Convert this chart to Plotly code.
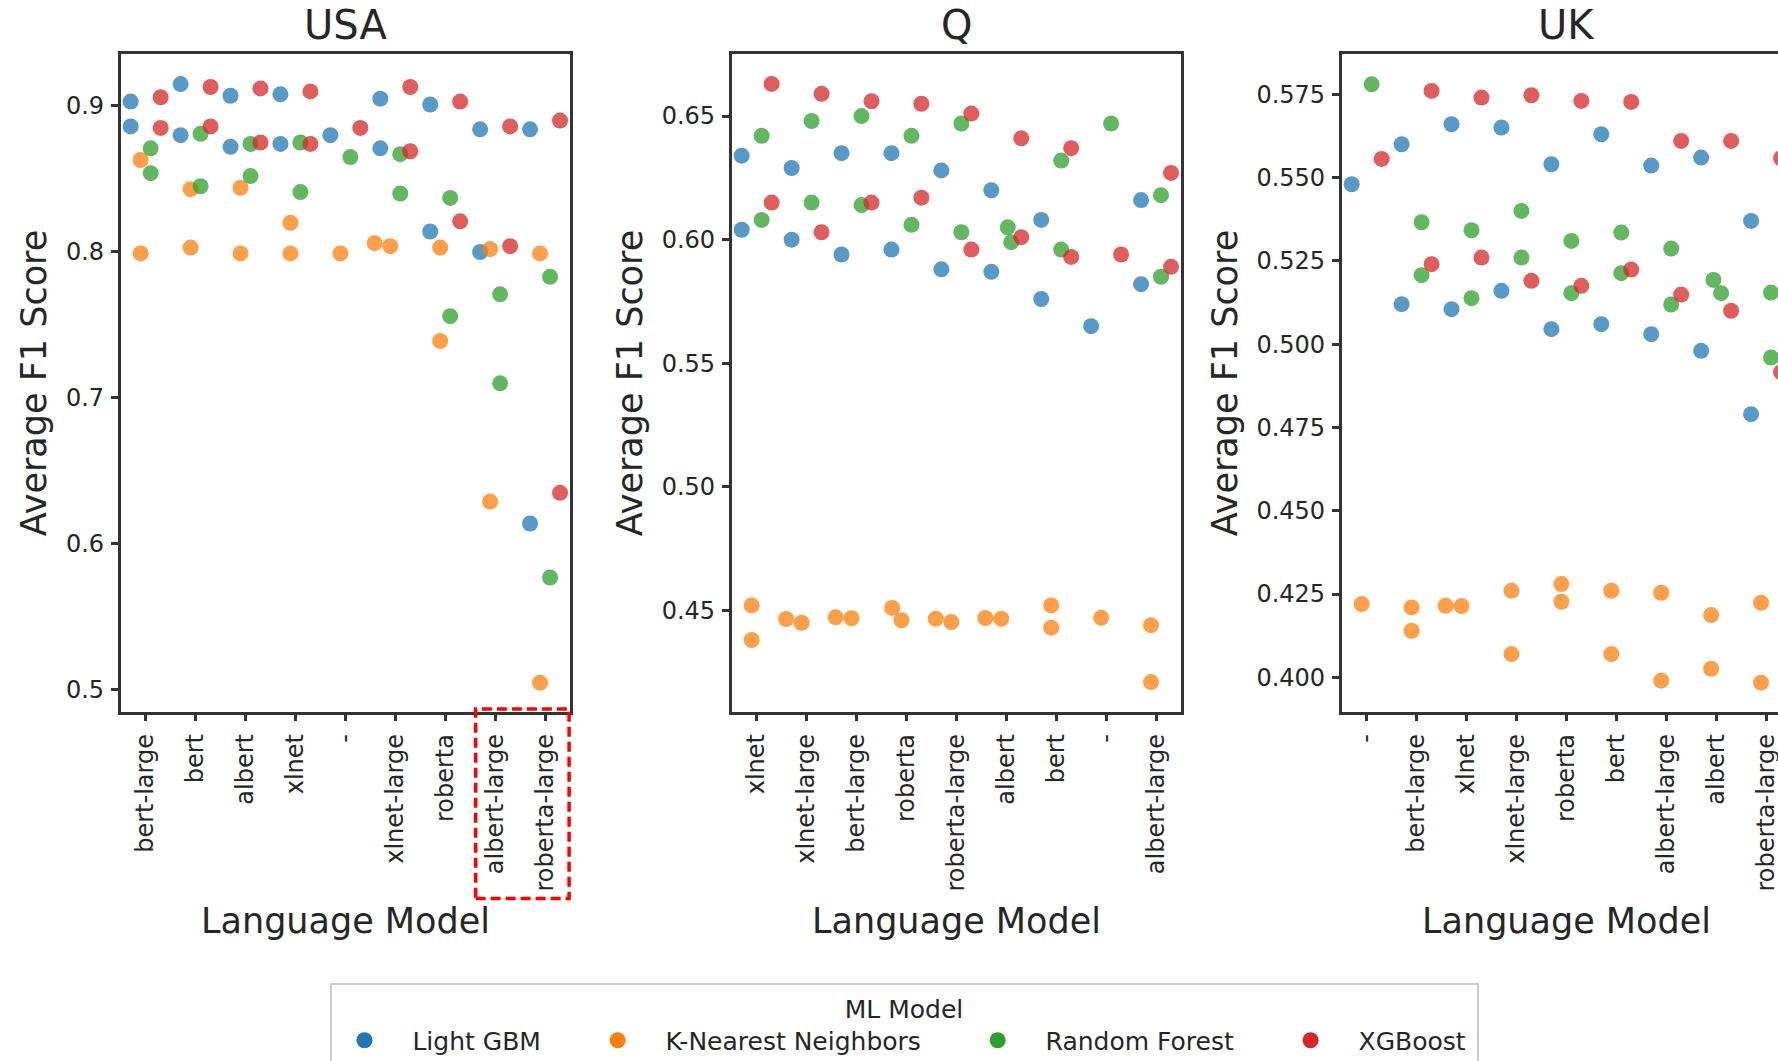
import numpy as np
import plotly.graph_objects as go

FIG_W, FIG_H = 1778, 1061

MODELS = ["Light GBM", "K-Nearest Neighbors", "Random Forest", "XGBoost"]
COLORS = ["#1f77b4", "#ff7f0e", "#2ca02c", "#d62728"]

# ---------------- data ----------------
usa_categories = ["bert-large", "bert", "albert", "xlnet", "-", "xlnet-large",
                  "roberta", "albert-large", "roberta-large"]
usa_lgbm = [[0.903, 0.886], [0.915, 0.880], [0.907, 0.872], [0.908, 0.874], [0.880],
            [0.905, 0.871], [0.901, 0.814], [0.884, 0.800], [0.884, 0.614]]
usa_knn = [[0.863, 0.799], [0.843, 0.803], [0.844, 0.799], [0.820, 0.799], [0.799],
           [0.806, 0.804], [0.803, 0.739], [0.802, 0.629], [0.799, 0.505]]
usa_rf = [[0.871, 0.854], [0.881, 0.845], [0.874, 0.852], [0.875, 0.841], [0.865],
          [0.867, 0.840], [0.837, 0.756], [0.771, 0.710], [0.783, 0.577]]
usa_xgb = [[0.906, 0.885], [0.913, 0.886], [0.912, 0.875], [0.910, 0.874], [0.885],
           [0.913, 0.869], [0.903, 0.821], [0.886, 0.804], [0.890, 0.635]]

q_categories = ["xlnet", "xlnet-large", "bert-large", "roberta", "roberta-large",
                "albert", "bert", "-", "albert-large"]
q_lgbm = [[0.634, 0.604], [0.629, 0.600], [0.635, 0.594], [0.635, 0.596], [0.628, 0.588],
          [0.620, 0.587], [0.608, 0.576], [0.565], [0.616, 0.582]]
q_knn = [[0.452, 0.438], [0.4465, 0.445], [0.4472, 0.4468], [0.451, 0.446], [0.4466, 0.4453],
         [0.4469, 0.4466], [0.452, 0.443], [0.447], [0.444, 0.421]]
q_rf = [[0.642, 0.608], [0.648, 0.615], [0.650, 0.614], [0.642, 0.606], [0.647, 0.603],
        [0.605, 0.599], [0.632, 0.596], [0.647], [0.618, 0.585]]
q_xgb = [[0.663, 0.615], [0.659, 0.603], [0.656, 0.615], [0.655, 0.617], [0.651, 0.596],
         [0.641, 0.601], [0.637, 0.593], [0.594], [0.627, 0.589]]

uk_categories = ["-", "bert-large", "xlnet", "xlnet-large", "roberta", "bert",
                 "albert-large", "albert", "roberta-large"]
uk_lgbm = [[0.548], [0.560, 0.512], [0.566, 0.5105], [0.565, 0.516], [0.554, 0.5045],
           [0.563, 0.506], [0.5536, 0.503], [0.556, 0.498], [0.537, 0.479]]
uk_knn = [[0.422], [0.421, 0.414], [0.4215, 0.4214], [0.426, 0.407], [0.428, 0.4227],
          [0.426, 0.407], [0.4254, 0.399], [0.4187, 0.4026], [0.4224, 0.3984]]
uk_rf = [[0.578], [0.5366, 0.5207], [0.5342, 0.5138], [0.540, 0.526], [0.531, 0.5153],
         [0.5335, 0.5213], [0.5287, 0.5119], [0.5193, 0.5153], [0.5155, 0.496]]
uk_xgb = [[0.5556], [0.576, 0.524], [0.574, 0.526], [0.5747, 0.519], [0.573, 0.5175],
          [0.5727, 0.5224], [0.561, 0.5149], [0.561, 0.510], [0.5558, 0.4916]]

usa_yticks = [0.5, 0.6, 0.7, 0.8, 0.9]
q_yticks = [0.45, 0.50, 0.55, 0.60, 0.65]
uk_yticks = [0.400, 0.425, 0.450, 0.475, 0.500, 0.525, 0.550, 0.575]

# ---------------- layout geometry ----------------
PLOT_TOP, PLOT_BOT = 54.3, 711.7
Y_DOMAIN = [1 - PLOT_BOT / FIG_H, 1 - PLOT_TOP / FIG_H]
PANEL_W = 449.3

panels = [
    dict(title="USA", cats=usa_categories, data=[usa_lgbm, usa_knn, usa_rf, usa_xgb],
         left=120.7, right=120.7 + PANEL_W, yrange=[0.4851, 0.9354], yticks=usa_yticks, fmt=".1f"),
    dict(title="Q", cats=q_categories, data=[q_lgbm, q_knn, q_rf, q_xgb],
         left=731.7, right=731.7 + PANEL_W, yrange=[0.409, 0.675], yticks=q_yticks, fmt=".2f"),
    dict(title="UK", cats=uk_categories, data=[uk_lgbm, uk_knn, uk_rf, uk_xgb],
         left=1341.7, right=1341.7 + PANEL_W, yrange=[0.3897, 0.587], yticks=uk_yticks, fmt=".3f"),
]

HUE_OFFSETS = [-0.3, -0.1, 0.1, 0.3]
MARKER_D = 16.0
RADIUS = 7.6


def swarm_offsets(values, ppu_y, radius):
    """seaborn-style beeswarm: pixel x offsets for points of one group"""
    ys = np.asarray(values, dtype=float) * ppu_y
    order = np.argsort(ys, kind="stable")
    placed = []
    offs = [0.0] * len(values)
    for idx in order:
        y = ys[idx]
        neighbors = [(px, py) for px, py in placed if abs(py - y) < 2 * radius]
        cands = [0.0]
        left_first = True
        for px, py in neighbors:
            dy = y - py
            dx = np.sqrt(max((2 * radius) ** 2 - dy ** 2, 0)) * 1.05
            cands.extend([px - dx, px + dx] if left_first else [px + dx, px - dx])
            left_first = not left_first
        cands = sorted(cands, key=abs)
        chosen = cands[-1]
        for c in cands:
            if all((c - px) ** 2 + (y - py) ** 2 >= (2 * radius) ** 2 - 1e-6 for px, py in neighbors):
                chosen = c
                break
        placed.append((chosen, y))
        offs[idx] = chosen
    return offs


fig = go.Figure()
FONT = "DejaVu Sans"
TXT = "#262626"
SPINE = "#333333"

for pi, p in enumerate(panels):
    sfx = "" if pi == 0 else str(pi + 1)
    ppu_x = PANEL_W / 9.0
    ppu_y = (PLOT_BOT - PLOT_TOP) / (p["yrange"][1] - p["yrange"][0])
    for hi, model in enumerate(MODELS):
        xs, ys = [], []
        for ci, vals in enumerate(p["data"][hi]):
            offs = swarm_offsets(vals, ppu_y, RADIUS)
            for v, o in zip(vals, offs):
                xs.append(ci + HUE_OFFSETS[hi] + o / ppu_x)
                ys.append(v)
        fig.add_trace(go.Scatter(
            x=xs, y=ys, mode="markers", name=model, showlegend=False,
            legendgroup=model, xaxis="x" + sfx, yaxis="y" + sfx,
            marker=dict(size=MARKER_D, color=COLORS[hi], opacity=0.75, line=dict(width=0)),
        ))

    xdom = [p["left"] / FIG_W, min(p["right"] / FIG_W, 1.0)]
    x_hi = -0.5 + (xdom[1] * FIG_W - p["left"]) / ppu_x
    is_last = pi == 2
    fig.layout["xaxis" + sfx] = dict(
        domain=xdom, anchor="y" + sfx, range=[-0.5, x_hi],
        tickmode="array", tickvals=list(range(len(p["cats"]))), ticktext=p["cats"],
        tickangle=-90, showline=True, linecolor=SPINE, linewidth=2.5, mirror=True,
        ticks="outside", ticklen=7, tickwidth=2.5, tickcolor=SPINE,
        tickfont=dict(family=FONT, size=24, color=TXT), ticklabelstandoff=3,
        ticklabeloverflow="allow",
        showgrid=False, zeroline=False,
    )
    fig.layout["yaxis" + sfx] = dict(
        domain=Y_DOMAIN, anchor="x" + sfx, range=p["yrange"],
        tickmode="array", tickvals=p["yticks"], tickformat=p["fmt"],
        showline=True, linecolor=SPINE, linewidth=2.5, mirror=(not is_last),
        ticks="outside", ticklen=7, tickwidth=2.5, tickcolor=SPINE,
        tickfont=dict(family=FONT, size=24, color=TXT), ticklabelstandoff=2,
        showgrid=False, zeroline=False,
        title=dict(text="Average F1 Score", font=dict(family=FONT, size=35, color=TXT), standoff=9),
    )
    cx = (p["left"] + p["right"]) / 2 / FIG_W
    fig.add_annotation(text=p["title"], x=cx, y=1 - 25 / FIG_H, xref="paper", yref="paper",
                       xanchor="center", yanchor="middle", showarrow=False,
                       font=dict(family=FONT, size=40, color=TXT))
    fig.add_annotation(text="Language Model", x=cx, y=1 - 921 / FIG_H, xref="paper", yref="paper",
                       xanchor="center", yanchor="middle", showarrow=False,
                       font=dict(family=FONT, size=35, color=TXT))

# legend proxies (full colour markers)
NB = "\u00a0"
TH = "\u2009"
for hi, model in enumerate(MODELS):
    trail = (NB * 4 + TH) if hi < 3 else TH
    fig.add_trace(go.Scatter(
        x=[None], y=[None], mode="markers", name=NB + TH + model + trail,
        legendgroup=model, showlegend=True,
        marker=dict(size=18, color=COLORS[hi]),
    ))

# red dashed highlight around the last two USA tick labels
fig.add_shape(type="rect", xref="x domain", yref="y domain",
              x0=0.790, x1=0.998, y0=-0.284, y1=0.004,
              line=dict(color="#ff0000", width=3.5, dash="10px,5px"), fillcolor="rgba(0,0,0,0)",
              layer="above")

fig.update_layout(
    width=FIG_W, height=FIG_H,
    margin=dict(l=0, r=0, t=0, b=0, autoexpand=False),
    paper_bgcolor="white", plot_bgcolor="white",
    font=dict(family=FONT, color=TXT),
    legend=dict(
        orientation="h", xref="container", yref="container",
        x=904 / FIG_W, xanchor="center", y=1 - 983 / FIG_H, yanchor="top",
        itemwidth=60,
        title=dict(text="ML Model", side="top center", font=dict(family=FONT, size=25, color=TXT)),
        font=dict(family=FONT, size=25, color=TXT),
        bordercolor="#cccccc", borderwidth=2, bgcolor="white",
    ),
)

fig.write_html("out.html", config={"displayModeBar": False},
               post_script="document.body.style.margin='0';")
